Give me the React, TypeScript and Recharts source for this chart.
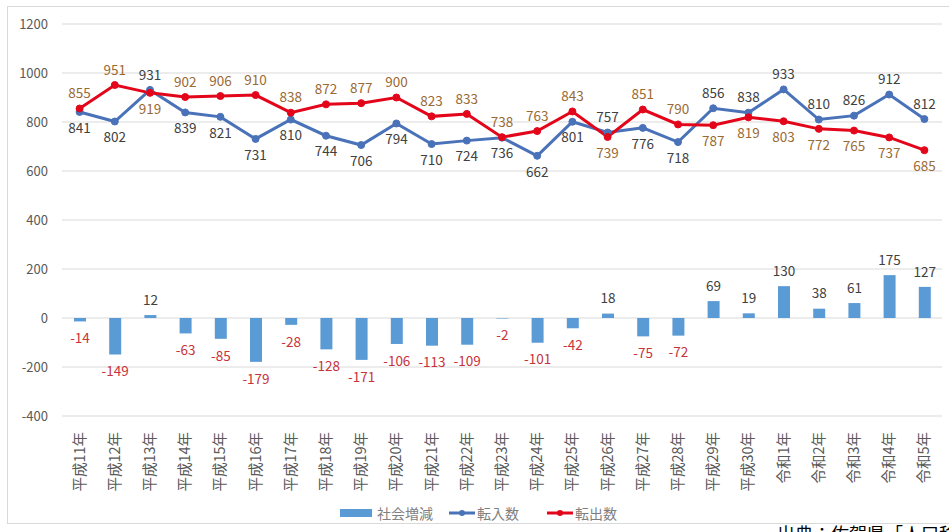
import React from "react";
import {
  Bar,
  CartesianGrid,
  ComposedChart,
  LabelList,
  Line,
  XAxis,
  YAxis,
} from "recharts";

const years = [
  "平成11年", "平成12年", "平成13年", "平成14年", "平成15年", "平成16年", "平成17年",
  "平成18年", "平成19年", "平成20年", "平成21年", "平成22年", "平成23年", "平成24年",
  "平成25年", "平成26年", "平成27年", "平成28年", "平成29年", "平成30年",
  "令和1年", "令和2年", "令和3年", "令和4年", "令和5年",
];

const moveIn = [
  841, 802, 931, 839, 821, 731, 810, 744, 706, 794, 710, 724, 736, 662, 801, 757, 776,
  718, 856, 838, 933, 810, 826, 912, 812,
];

const moveOut = [
  855, 951, 919, 902, 906, 910, 838, 872, 877, 900, 823, 833, 738, 763, 843, 739, 851,
  790, 787, 819, 803, 772, 765, 737, 685,
];

const socialChange = [
  -14, -149, 12, -63, -85, -179, -28, -128, -171, -106, -113, -109, -2, -101, -42, 18,
  -75, -72, 69, 19, 130, 38, 61, 175, 127,
];

const yTicks = [-400, -200, 0, 200, 400, 600, 800, 1000, 1200];

const FONT = "'Noto Sans CJK JP', 'Noto Sans', sans-serif";
const BAR = "#5b9bd5";
const BLUE = "#4a72b8";
const RED = "#e3061a";

const data = years.map((year, i) => ({
  year,
  moveIn: moveIn[i],
  moveOut: moveOut[i],
  social: socialChange[i],
}));

// label goes above the point when this series is the higher one
function lineLabel(own: number[], other: number[], color: string) {
  return (props: any) => {
    const { x, y, index, value } = props;
    const above = own[index] >= other[index];
    return (
      <text
        x={x}
        y={above ? y - 15 : y + 16}
        dy="0.35em"
        textAnchor="middle"
        fill={color}
        fontSize={13.5}
        fontFamily={FONT}
      >
        {value}
      </text>
    );
  };
}

function barLabel(props: any) {
  const { x, y, width, height, value } = props;
  const top = Math.min(y, y + height);
  const bottom = Math.max(y, y + height);
  const neg = value < 0;
  return (
    <text
      x={x + width / 2}
      y={neg ? bottom + 17 : top - 15}
      dy="0.35em"
      textAnchor="middle"
      fill={neg ? "#c8323a" : "#404040"}
      fontSize={13.5}
      fontFamily={FONT}
    >
      {value}
    </text>
  );
}

function YearTick(props: any) {
  const { x, y, payload } = props;
  return (
    <g transform={`translate(${x},${y})`}>
      <text
        transform="rotate(-90)"
        x={-8}
        y={0}
        dy="0.35em"
        textAnchor="end"
        fill="#595959"
        fontSize={14.5}
        fontFamily={FONT}
      >
        {payload.value}
      </text>
    </g>
  );
}

export default function App() {
  return (
    <div
      style={{
        position: "fixed",
        left: 0,
        top: 0,
        width: 949,
        height: 532,
        overflow: "hidden",
        background: "#fff",
        fontFamily: FONT,
      }}
    >
      <div
        style={{
          position: "absolute",
          left: 7,
          top: 6,
          width: 960,
          height: 516,
          border: "1px solid #d9d9d9",
        }}
      />
      <div style={{ position: "absolute", left: 0, top: 0 }}>
        <ComposedChart
          width={949}
          height={532}
          data={data}
          margin={{ top: 24, right: 7, left: 0, bottom: 0 }}
        >
          <CartesianGrid vertical={false} stroke="#d9d9d9" />
          <XAxis
            dataKey="year"
            height={116}
            axisLine={false}
            tickLine={false}
            interval={0}
            tick={<YearTick />}
          />
          <YAxis
            width={62}
            domain={[-400, 1200]}
            ticks={yTicks}
            axisLine={false}
            tickLine={false}
            tickSize={0}
            tickMargin={14}
            tick={{ fill: "#595959", fontSize: 13, fontFamily: FONT }}
          />
          <Bar dataKey="social" fill={BAR} barSize={12} isAnimationActive={false}>
            <LabelList dataKey="social" content={barLabel} />
          </Bar>
          <Line
            dataKey="moveIn"
            stroke={BLUE}
            strokeWidth={3}
            dot={{ r: 3.5, fill: BLUE, stroke: BLUE, strokeWidth: 1 }}
            isAnimationActive={false}
          >
            <LabelList dataKey="moveIn" content={lineLabel(moveIn, moveOut, "#404040")} />
          </Line>
          <Line
            dataKey="moveOut"
            stroke={RED}
            strokeWidth={3}
            dot={{ r: 3.5, fill: RED, stroke: RED, strokeWidth: 1 }}
            isAnimationActive={false}
          >
            <LabelList dataKey="moveOut" content={lineLabel(moveOut, moveIn, "#9a6a34")} />
          </Line>
        </ComposedChart>
      </div>
      <div
        style={{
          position: "absolute",
          left: 340,
          top: 503,
          display: "flex",
          alignItems: "center",
          fontSize: 14,
          color: "#7f7f7f",
          lineHeight: "20px",
        }}
      >
        <span style={{ display: "inline-block", width: 32, height: 8, background: BAR, marginRight: 5 }} />
        <span>社会増減</span>
        <svg width={26} height={10} style={{ marginLeft: 16, marginRight: 2 }}>
          <line x1={0} y1={5} x2={26} y2={5} stroke={BLUE} strokeWidth={3} />
          <circle cx={13} cy={5} r={3} fill={BLUE} />
        </svg>
        <span>転入数</span>
        <svg width={26} height={10} style={{ marginLeft: 28, marginRight: 2 }}>
          <line x1={0} y1={5} x2={26} y2={5} stroke={RED} strokeWidth={3} />
          <circle cx={13} cy={5} r={3} fill={RED} />
        </svg>
        <span>転出数</span>
      </div>
      <div
        style={{
          position: "absolute",
          left: 777,
          top: 523,
          fontSize: 18,
          lineHeight: "20px",
          color: "#000",
          whiteSpace: "nowrap",
        }}
      >
        出典：佐賀県「人口移動調査」
      </div>
    </div>
  );
}
